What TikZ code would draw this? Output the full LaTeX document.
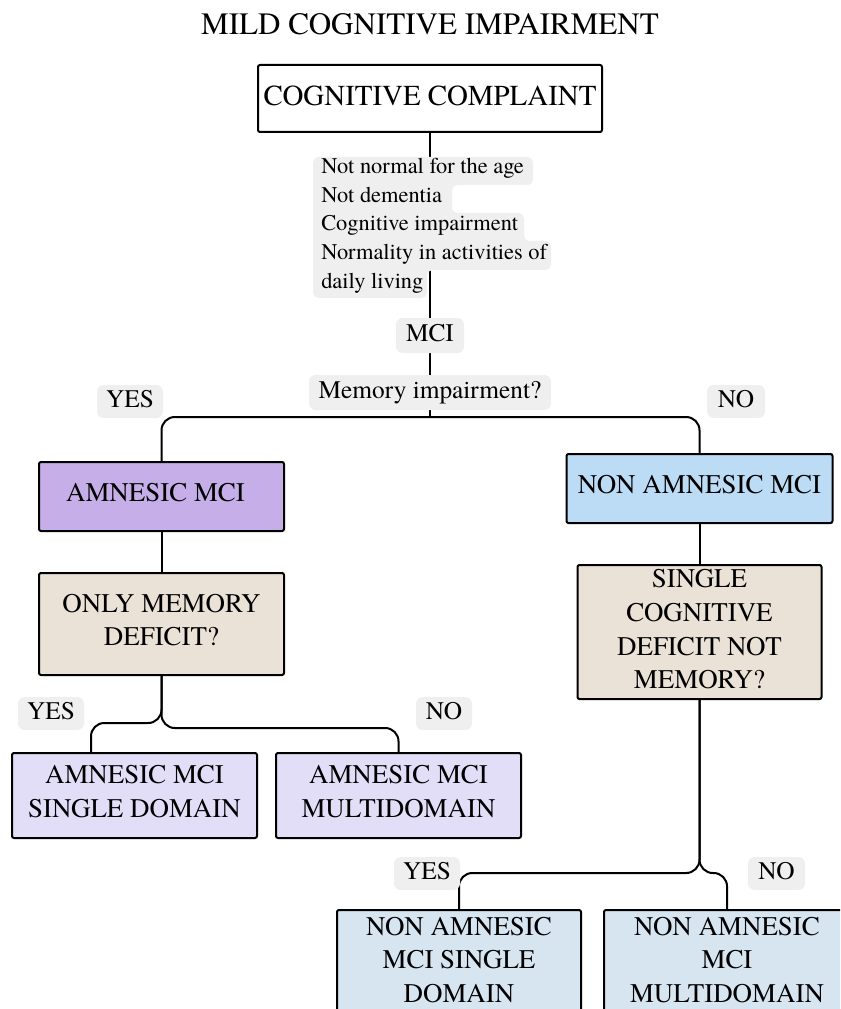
\documentclass[tikz,border=0pt]{standalone}
\usepackage{fontspec}
\setmainfont{TeX Gyre Termes}
\usetikzlibrary{backgrounds}

\definecolor{tagfill}{HTML}{EFEFEF}
\definecolor{amnfill}{HTML}{C6AFE8}
\definecolor{askfill}{HTML}{EAE1D7}
\definecolor{amnleaf}{HTML}{E3DEF8}
\definecolor{namnfill}{HTML}{BCDBF4}
\definecolor{namnleaf}{HTML}{D7E5F1}

\begin{document}
\begin{tikzpicture}[x=0.75pt, y=-0.75pt,
  sz/.style 2 args={minimum width=#1*0.75pt, minimum height=#2*0.75pt},
  box/.style={draw=black, line width=1.5pt, rounded corners=1.5pt, inner sep=0pt},
  boxtext/.style={align=center, inner sep=0pt, font=\fontsize{20.2}{25.2}\selectfont},
  tag/.style={fill=tagfill, rounded corners=5pt, inner sep=0pt,
    text height=13pt, text depth=4pt, font=\fontsize{19}{25}\selectfont},
  bodytext/.style={inner sep=0pt, anchor=base west, font=\fontsize{16.8}{21}\selectfont},
  conn/.style={line width=1.5pt, rounded corners=10pt}
]
\useasboundingbox (0,0) rectangle (840,1009);
\clip (0,0) rectangle (840,1009);

% title
\node[anchor=base, inner sep=0pt, font=\fontsize{23.3}{28}\selectfont] (title) at (430,35) {MILD COGNITIVE IMPAIRMENT};

% top box
\node[box, fill=white, sz={344}{67}] (cc) at (430,98.5) {};
\node[inner sep=0pt, yshift=2pt, font=\fontsize{21.7}{26}\selectfont] (cc-t) at (cc.center) {COGNITIVE COMPLAINT};

% criteria list on a ragged grey background
\fill[tagfill, rounded corners=4pt] (313,157) -- (533,157) -- (533,185) -- (452,185) -- (452,213)
  -- (524,213) -- (524,241) -- (551,241) -- (551,270) -- (427,270) -- (427,298) -- (313,298) -- cycle;
\node[bodytext] (crit1) at (321,174) {Not normal for the age};
\node[bodytext] (crit2) at (321,202.5) {Not dementia};
\node[bodytext] (crit3) at (321,231) {Cognitive impairment};
\node[bodytext] (crit4) at (321,259.5) {Normality in activities of};
\node[bodytext] (crit5) at (321,288) {daily living};

% grey labels
\node[tag, sz={68}{35}] (mci) at (430,335.5) {MCI};
\node[tag, sz={242}{35}] (mem) at (430,392.5) {Memory impairment?};
\node[tag, sz={66}{33}] (yes1) at (130,401.5) {YES};
\node[tag, sz={58}{33}] (no1) at (736,401.5) {NO};
\node[tag, sz={66}{33}] (yes2) at (51,713.5) {YES};
\node[tag, sz={56}{33}] (no2) at (444,713.5) {NO};
\node[tag, sz={66}{33}] (yes3) at (427,873.5) {YES};
\node[tag, sz={57}{33}] (no3) at (776.5,873.5) {NO};

% amnesic branch
\node[box, fill=amnfill, sz={245}{69}] (amn) at (161.5,496.5) {};
\node[boxtext, yshift=3pt, xshift=-4.5pt] (amn-t) at (amn.center) {AMNESIC MCI};
\node[box, fill=askfill, sz={245}{102}] (omd) at (161.5,624) {};
\node[boxtext, yshift=3pt] (omd-t) at (omd.center) {ONLY MEMORY\\DEFICIT?};
\node[box, fill=amnleaf, sz={245}{85}] (asd) at (134.5,795.5) {};
\node[boxtext, yshift=3pt] (asd-t) at (asd.center) {AMNESIC MCI\\SINGLE DOMAIN};
\node[box, fill=amnleaf, sz={245}{85}] (amd) at (398.5,795.5) {};
\node[boxtext, yshift=3pt] (amd-t) at (amd.center) {AMNESIC MCI\\MULTIDOMAIN};

% non-amnesic branch
\node[box, fill=namnfill, sz={266}{69}] (namn) at (699.5,488.5) {};
\node[boxtext, yshift=3pt] (namn-t) at (namn.center) {NON AMNESIC MCI};
\node[box, fill=askfill, sz={244}{134}] (scd) at (699.5,632) {};
\node[boxtext, yshift=2pt] (scd-t) at (scd.center) {SINGLE\\COGNITIVE\\DEFICIT NOT\\MEMORY?};
\node[box, fill=namnleaf, sz={244}{140}] (nsd) at (459,980) {};
\node[boxtext] (nsd-t) at (459,960) {NON AMNESIC\\MCI SINGLE\\DOMAIN};
\node[box, fill=namnleaf, sz={246}{140}] (nmd) at (727,980) {};
\node[boxtext] (nmd-t) at (727,960) {NON AMNESIC\\MCI\\MULTIDOMAIN};

% branching points and entry points
\coordinate (split1) at (430,417);
\coordinate (fork2l) at (161.5,723);
\coordinate (fork2r) at (161.5,728);
\coordinate (asd-in) at (91,753);
\coordinate (fork3) at (699.5,873);

\begin{pgfonlayer}{background}
  \draw[conn] (cc.south) -- (mci.north);
  \draw[conn] (mci.south) -- (mem.north);
  \draw[conn] (mem.south) -- (split1);
  \draw[conn] (split1) -| (amn.north);
  \draw[conn] (split1) -| (namn.north);
  \draw[conn] (amn.south) -- (omd.north);
  \draw[conn] (omd.south) -- (fork2l) -| (asd-in);
  \draw[conn] (omd.south) -- (fork2r) -| (amd.north);
  \draw[conn] (namn.south) -- (scd.north);
  \draw[conn] (scd.south) -- (fork3) -| (nsd.north);
  \draw[conn] (scd.south) -- (fork3) -| (nmd.north);
\end{pgfonlayer}
\end{tikzpicture}
\end{document}
